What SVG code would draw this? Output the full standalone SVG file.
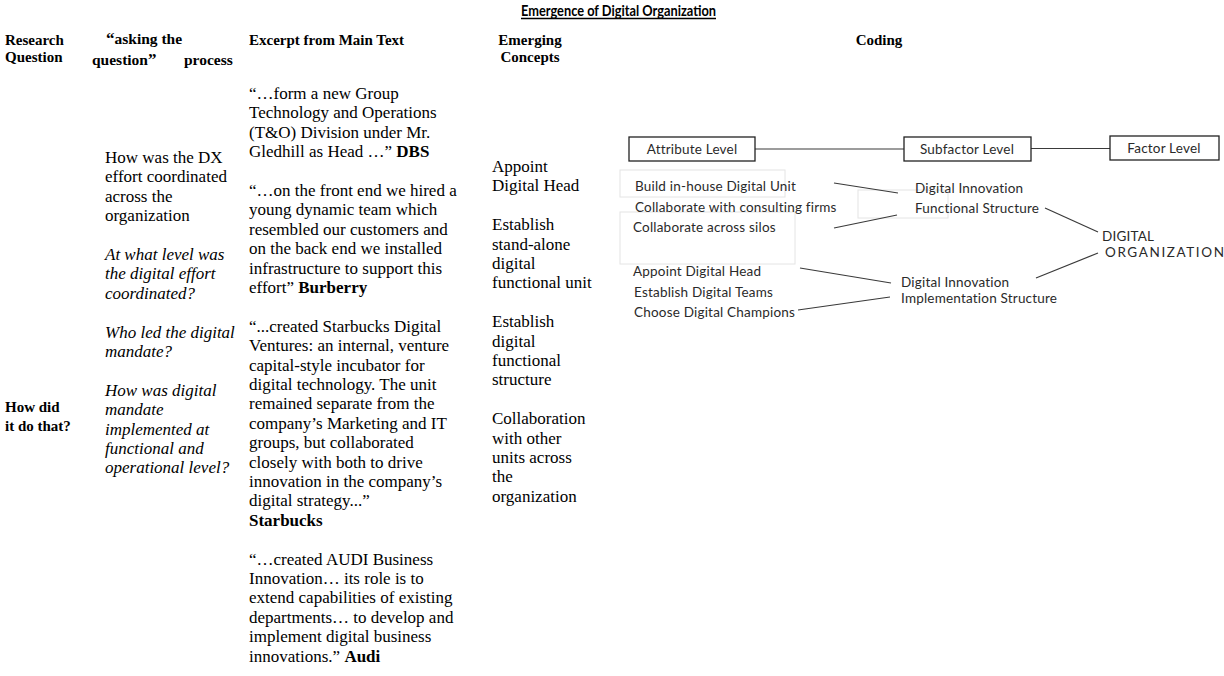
<svg xmlns="http://www.w3.org/2000/svg" width="1224" height="676" viewBox="0 0 1224 676">
<style>
  .hd { font-family: "Liberation Serif", serif; font-weight: bold; font-size: 15px; fill: #000; }
  .hd2 { font-size: 15.5px; }
  .bd { font-family: "Liberation Serif", serif; font-size: 17px; fill: #000; }
  .it { font-family: "Liberation Serif", serif; font-style: italic; font-size: 17px; fill: #000; }
  .b { font-weight: bold; }
  .q { font-size: 17px; font-weight: 900; }
  .title { font-family: Lato, "Liberation Sans", sans-serif; font-weight: bold; font-size: 15.5px; fill: #000; }
  .cd { font-family: Lato, "Liberation Sans", sans-serif; font-size: 13.5px; fill: #2a2a2a; letter-spacing: 0.2px; }
  .box { fill: #fff; stroke: #222; stroke-width: 1.3; }
  .faint { fill: none; stroke: #e4e4e4; stroke-width: 1; }
  .ln { stroke: #3a3a3a; stroke-width: 1.2; fill: none; }
</style>
<rect width="1224" height="676" fill="#fff"/>

<g id="title">
  <text class="title" x="521" y="16" textLength="195" lengthAdjust="spacingAndGlyphs">Emergence of Digital Organization</text>
  <line x1="521" y1="18.5" x2="716" y2="18.5" stroke="#000" stroke-width="1.3"/>
</g>

<g id="headers">
  <text class="hd" x="5" y="45">Research</text>
  <text class="hd" x="5" y="62">Question</text>
  <text class="hd hd2" x="106" y="44"><tspan class="q">“</tspan>asking the</text>
  <text class="hd hd2" x="92" y="65">question<tspan class="q">”</tspan><tspan x="184">process</tspan></text>
  <text class="hd" x="249" y="45">Excerpt from Main Text</text>
  <text class="hd" x="530" y="45" text-anchor="middle">Emerging</text>
  <text class="hd" x="530" y="62" text-anchor="middle">Concepts</text>
  <text class="hd" x="879" y="45" text-anchor="middle">Coding</text>
</g>

<g id="research-question">
  <text class="hd" x="5" y="412">How did</text>
  <text class="hd" x="5" y="431">it do that?</text>
</g>

<g id="asking-process">
  <text class="bd" x="105" y="163">How was the DX</text>
  <text class="bd" x="105" y="182.4">effort coordinated</text>
  <text class="bd" x="105" y="201.8">across the</text>
  <text class="bd" x="105" y="221.2">organization</text>
  <text class="it" x="105" y="260">At what level was</text>
  <text class="it" x="105" y="279.4">the digital effort</text>
  <text class="it" x="105" y="298.8">coordinated?</text>
  <text class="it" x="105" y="337.6">Who led the digital</text>
  <text class="it" x="105" y="357">mandate?</text>
  <text class="it" x="105" y="395.8">How was digital</text>
  <text class="it" x="105" y="415.2">mandate</text>
  <text class="it" x="105" y="434.6">implemented at</text>
  <text class="it" x="105" y="454">functional and</text>
  <text class="it" x="105" y="473.4">operational level?</text>
</g>

<g id="excerpts">
  <text class="bd" x="249" y="99">“…form a new Group</text>
  <text class="bd" x="249" y="118.4">Technology and Operations</text>
  <text class="bd" x="249" y="137.8">(T&amp;O) Division under Mr.</text>
  <text class="bd" x="249" y="157.2">Gledhill as Head …” <tspan class="b">DBS</tspan></text>
  <text class="bd" x="249" y="196">“…on the front end we hired a</text>
  <text class="bd" x="249" y="215.4">young dynamic team which</text>
  <text class="bd" x="249" y="234.8">resembled our customers and</text>
  <text class="bd" x="249" y="254.2">on the back end we installed</text>
  <text class="bd" x="249" y="273.6">infrastructure to support this</text>
  <text class="bd" x="249" y="293">effort” <tspan class="b">Burberry</tspan></text>
  <text class="bd" x="249" y="331.8">“...created Starbucks Digital</text>
  <text class="bd" x="249" y="351.2">Ventures: an internal, venture</text>
  <text class="bd" x="249" y="370.6">capital-style incubator for</text>
  <text class="bd" x="249" y="390">digital technology. The unit</text>
  <text class="bd" x="249" y="409.4">remained separate from the</text>
  <text class="bd" x="249" y="428.8">company’s Marketing and IT</text>
  <text class="bd" x="249" y="448.2">groups, but collaborated</text>
  <text class="bd" x="249" y="467.6">closely with both to drive</text>
  <text class="bd" x="249" y="487">innovation in the company’s</text>
  <text class="bd" x="249" y="506.4">digital strategy...”</text>
  <text class="bd b" x="249" y="525.8">Starbucks</text>
  <text class="bd" x="249" y="564.6">“…created AUDI Business</text>
  <text class="bd" x="249" y="584">Innovation… its role is to</text>
  <text class="bd" x="249" y="603.4">extend capabilities of existing</text>
  <text class="bd" x="249" y="622.8">departments… to develop and</text>
  <text class="bd" x="249" y="642.2">implement digital business</text>
  <text class="bd" x="249" y="661.6">innovations.” <tspan class="b">Audi</tspan></text>
</g>

<g id="concepts">
  <text class="bd" x="492" y="172">Appoint</text>
  <text class="bd" x="492" y="191.4">Digital Head</text>
  <text class="bd" x="492" y="230.2">Establish</text>
  <text class="bd" x="492" y="249.6">stand-alone</text>
  <text class="bd" x="492" y="269">digital</text>
  <text class="bd" x="492" y="288.4">functional unit</text>
  <text class="bd" x="492" y="327.2">Establish</text>
  <text class="bd" x="492" y="346.6">digital</text>
  <text class="bd" x="492" y="366">functional</text>
  <text class="bd" x="492" y="385.4">structure</text>
  <text class="bd" x="492" y="424.2">Collaboration</text>
  <text class="bd" x="492" y="443.6">with other</text>
  <text class="bd" x="492" y="463">units across</text>
  <text class="bd" x="492" y="482.4">the</text>
  <text class="bd" x="492" y="501.8">organization</text>
</g>

<g id="faint-frames">
  <rect class="faint" x="620" y="170" width="165" height="27"/>
  <rect class="faint" x="620" y="212" width="175" height="52"/>
  <rect class="faint" x="858" y="190" width="90" height="28"/>
</g>

<g id="connectors">
  <line class="ln" x1="755" y1="149" x2="904" y2="149"/>
  <line class="ln" x1="1031" y1="148.5" x2="1110" y2="148.5"/>
  <line class="ln" x1="834" y1="183" x2="898" y2="193"/>
  <line class="ln" x1="834" y1="228" x2="897" y2="215"/>
  <line class="ln" x1="1045" y1="208" x2="1098" y2="232"/>
  <line class="ln" x1="1036" y1="278" x2="1098" y2="253"/>
  <line class="ln" x1="800" y1="268" x2="891" y2="283"/>
  <line class="ln" x1="798" y1="310" x2="890" y2="297"/>
</g>

<g id="attribute-level">
  <rect class="box" x="629" y="137" width="126" height="24"/>
  <text class="cd" x="692" y="153.5" text-anchor="middle">Attribute Level</text>
</g>
<g id="subfactor-level">
  <rect class="box" x="904" y="137" width="127" height="24"/>
  <text class="cd" x="967" y="153.5" text-anchor="middle">Subfactor Level</text>
</g>
<g id="factor-level">
  <rect class="box" x="1110" y="136" width="109" height="24"/>
  <text class="cd" x="1164" y="152.5" text-anchor="middle">Factor Level</text>
</g>

<g id="attributes-functional">
  <text class="cd" x="635" y="190.5">Build in-house Digital Unit</text>
  <text class="cd" x="635" y="211.5">Collaborate with consulting firms</text>
  <text class="cd" x="633" y="231.5">Collaborate across silos</text>
</g>
<g id="attributes-implementation">
  <text class="cd" x="633" y="276">Appoint Digital Head</text>
  <text class="cd" x="634" y="297">Establish Digital Teams</text>
  <text class="cd" x="634" y="316.5">Choose Digital Champions</text>
</g>
<g id="subfactor-functional">
  <text class="cd" x="915" y="192.5">Digital Innovation</text>
  <text class="cd" x="915" y="212.5">Functional Structure</text>
</g>
<g id="subfactor-implementation">
  <text class="cd" x="901" y="286.5">Digital Innovation</text>
  <text class="cd" x="901" y="302.5">Implementation Structure</text>
</g>
<g id="factor-digital-organization">
  <text class="cd" x="1102" y="240.5">DIGITAL</text>
  <text class="cd" x="1105" y="256.5" style="letter-spacing:1.6px">ORGANIZATION</text>
</g>
</svg>
